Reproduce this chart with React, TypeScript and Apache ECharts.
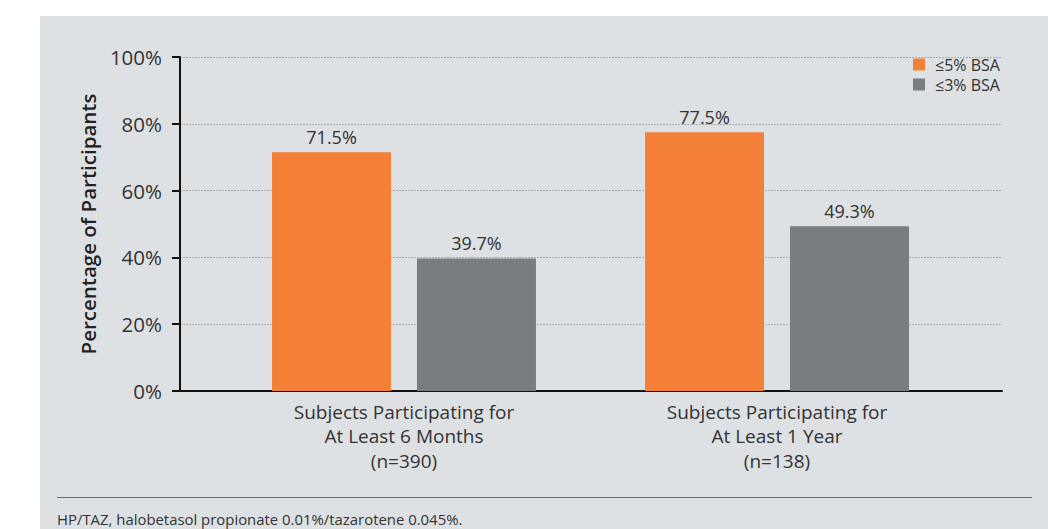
import React, { useEffect, useRef } from "react";
import * as echarts from "echarts";

const categories = [
  "Subjects Participating for\nAt Least 6 Months\n(n=390)",
  "Subjects Participating for\nAt Least 1 Year\n(n=138)",
];
const seriesNames = ["≤5% BSA", "≤3% BSA"];
const bsa5 = [71.5, 77.5];
const bsa3 = [39.7, 49.3];
const yTicks = { min: 0, max: 100, interval: 20 };
const footnote = "HP/TAZ, halobetasol propionate 0.01%/tazarotene 0.045%.";

const FONT = "'Open Sans', Lato, sans-serif";

export default function App() {
  const ref = useRef<HTMLDivElement>(null);
  useEffect(() => {
    document.body.style.margin = "0";
    const chart = echarts.init(ref.current!, null, { renderer: "svg" });
    const labelCfg = {
      show: true,
      position: "top",
      distance: 6,
      fontSize: 18,
      color: "#333",
      fontFamily: FONT,
      formatter: (p: any) => p.value.toFixed(1) + "%",
    };
    chart.setOption({
      animation: false,
      backgroundColor: "#ffffff",
      textStyle: { fontFamily: FONT },
      graphic: [
        {
          type: "rect",
          z: -10,
          silent: true,
          shape: { x: 40, y: 16, width: 1008, height: 513 },
          style: { fill: "#dee1e4" },
        },
        {
          type: "line",
          shape: { x1: 57, y1: 497.5, x2: 1032, y2: 497.5 },
          style: { stroke: "#6b6b6b", lineWidth: 1.2 },
        },
        {
          type: "text",
          x: 57,
          y: 519,
          style: {
            text: footnote,
            fontSize: 14.9,
            fill: "#333",
            fontFamily: FONT,
            verticalAlign: "middle",
          },
        },
      ],
      legend: {
        orient: "vertical",
        left: 913,
        top: 56.5,
        padding: 0,
        itemWidth: 12,
        itemHeight: 12,
        itemGap: 4,
        icon: "rect",
        data: seriesNames,
        textStyle: { fontSize: 16, color: "#333", fontFamily: FONT, padding: [0, 0, 0, 5] },
      },
      grid: [
        { left: 180, right: 46, top: 57, bottom: 138 },
        { left: 217.5, right: 84.5, top: 57, bottom: 138 },
      ],
      xAxis: [
        {
          gridIndex: 0,
          type: "value",
          min: 0,
          max: 1,
          axisLine: { show: true, onZero: false, lineStyle: { color: "#111", width: 2 } },
          axisTick: { show: false },
          axisLabel: { show: false },
          splitLine: { show: false },
        },
        {
          gridIndex: 1,
          type: "category",
          data: categories,
          axisLine: { show: false },
          axisTick: { show: false },
          axisLabel: {
            fontSize: 19,
            lineHeight: 24.5,
            color: "#333",
            margin: 8.5,
            fontFamily: FONT,
          },
        },
      ],
      yAxis: [
        {
          gridIndex: 0,
          type: "value",
          min: yTicks.min,
          max: yTicks.max,
          interval: yTicks.interval,
          name: "Percentage of Participants",
          nameLocation: "middle",
          nameGap: 73,
          nameTextStyle: { fontSize: 20.5, fontWeight: 600, color: "#222", fontFamily: FONT },
          axisLine: { show: true, lineStyle: { color: "#111", width: 2 } },
          axisTick: { show: true, length: 8, lineStyle: { color: "#111", width: 2 } },
          axisLabel: {
            formatter: "{value}%",
            fontSize: 20.5,
            color: "#333",
            margin: 18,
            fontFamily: FONT,
          },
          splitLine: {
            show: true,
            lineStyle: { color: "#a9abad", type: [2, 1], width: 1 },
          },
        },
        {
          gridIndex: 1,
          type: "value",
          min: yTicks.min,
          max: yTicks.max,
          show: false,
          splitLine: { show: false },
        },
      ],
      series: [
        {
          name: seriesNames[0],
          type: "bar",
          xAxisIndex: 1,
          yAxisIndex: 1,
          data: bsa5,
          barWidth: 119,
          barGap: "21.8%",
          itemStyle: { color: "#f48037" },
          label: labelCfg,
        },
        {
          name: seriesNames[1],
          type: "bar",
          xAxisIndex: 1,
          yAxisIndex: 1,
          data: bsa3,
          barWidth: 119,
          barGap: "21.8%",
          itemStyle: { color: "#7a7d80" },
          label: labelCfg,
        },
      ],
    });
    return () => chart.dispose();
  }, []);
  return <div ref={ref} style={{ width: 1048, height: 529 }} />;
}
